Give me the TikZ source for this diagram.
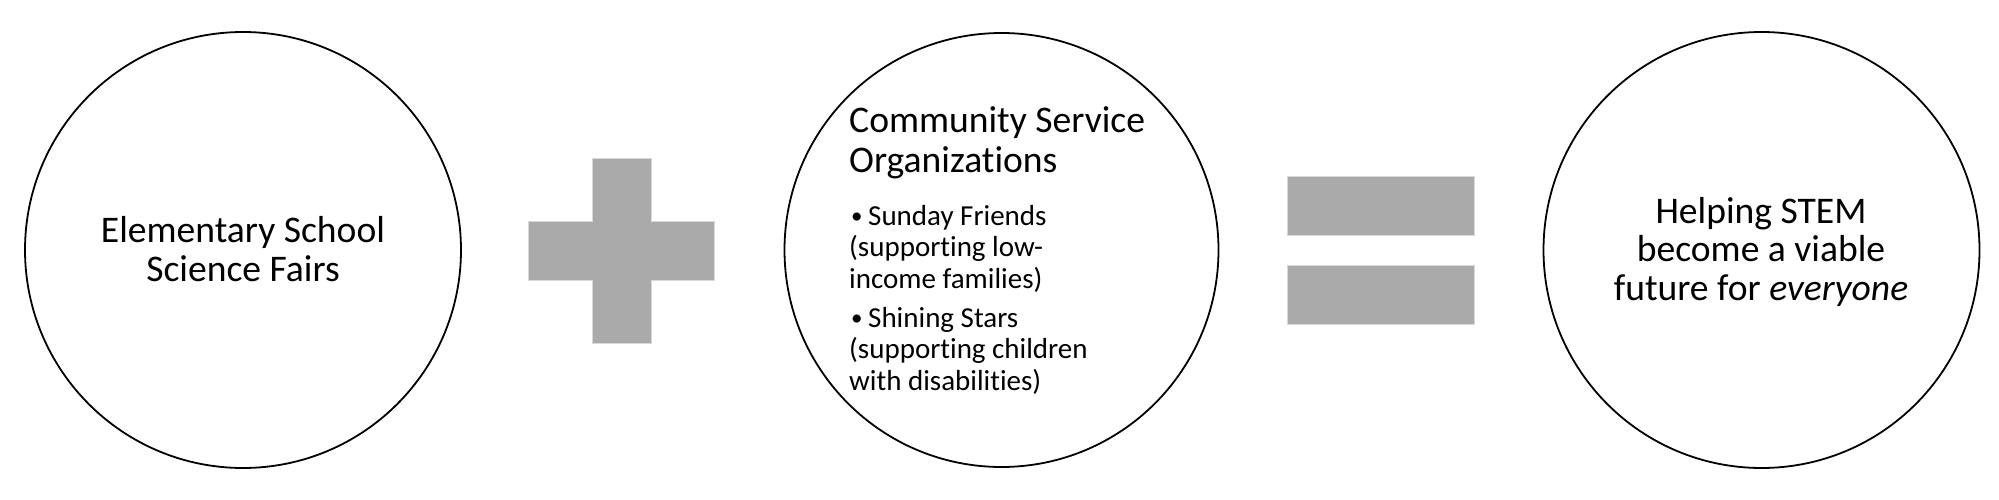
\documentclass[tikz,border=0pt]{standalone}
\usepackage{fontspec}
\setmainfont{Carlito}[Ligatures={NoCommon,NoContextual}]
\definecolor{opgray}{HTML}{AAAAAA}
\definecolor{opedge}{HTML}{D8D8D8}
\newcommand{\mybullet}{\makebox[19pt][l]{\hspace{2pt}\raisebox{1.5pt}{\fontsize{23}{23}\selectfont •}}}
\begin{document}
\begin{tikzpicture}[x=1pt,y=-1pt,
  ring/.style={circle, draw=black, line width=1.8pt, minimum size=436pt, inner sep=0pt},
  opsign/.style={fill=opgray, draw=opedge, line width=0.8pt},
  txt/.style={inner sep=0pt, anchor=base},
  txtl/.style={inner sep=0pt, anchor=base west}]
\useasboundingbox (0,0) rectangle (1999,500);
% circles
\node[ring] (c1) at (243,250) {};
\node[ring, minimum size=434pt] (c2) at (1001.5,250) {};
\node[ring] (c3) at (1761.5,250) {};
% plus sign
\path[opsign] (528,221) -- (592,221) -- (592,158) -- (651,158) -- (651,221) -- (714,221)
  -- (714,280) -- (651,280) -- (651,343) -- (592,343) -- (592,280) -- (528,280) -- cycle;
% equals sign
\path[opsign] (1287,176) rectangle (1474,235);
\path[opsign] (1287,265) rectangle (1474,324);
% texts
\node[txt] (t1) at (243,242.5) {\begin{minipage}[t]{400pt}\centering\fontsize{37.6}{39}\selectfont
  Elementary School\\Science Fairs\end{minipage}};
\node[txtl] (t2) at (849,132) {\begin{minipage}[t]{345pt}\raggedright\fontsize{37.6}{40}\selectfont
  Community Service\\Organizations\end{minipage}};
\node[txtl] (t2a) at (849,225) {\begin{minipage}[t]{330pt}\raggedright\fontsize{29}{31.5}\selectfont
  \hangindent=19pt\hangafter=1\noindent\mybullet Sunday Friends\\(supporting low-\\income families)\end{minipage}};
\node[txtl] (t2b) at (849,327) {\begin{minipage}[t]{330pt}\raggedright\fontsize{29}{31.5}\selectfont
  \hangindent=19pt\hangafter=1\noindent\mybullet Shining Stars\\(supporting children\\with disabilities)\end{minipage}};
\node[txt] (t3) at (1761,223) {\begin{minipage}[t]{400pt}\centering\fontsize{37.6}{38.5}\selectfont
  Helping STEM\\become a viable\\future for \textit{everyone}\end{minipage}};
\end{tikzpicture}
\end{document}
